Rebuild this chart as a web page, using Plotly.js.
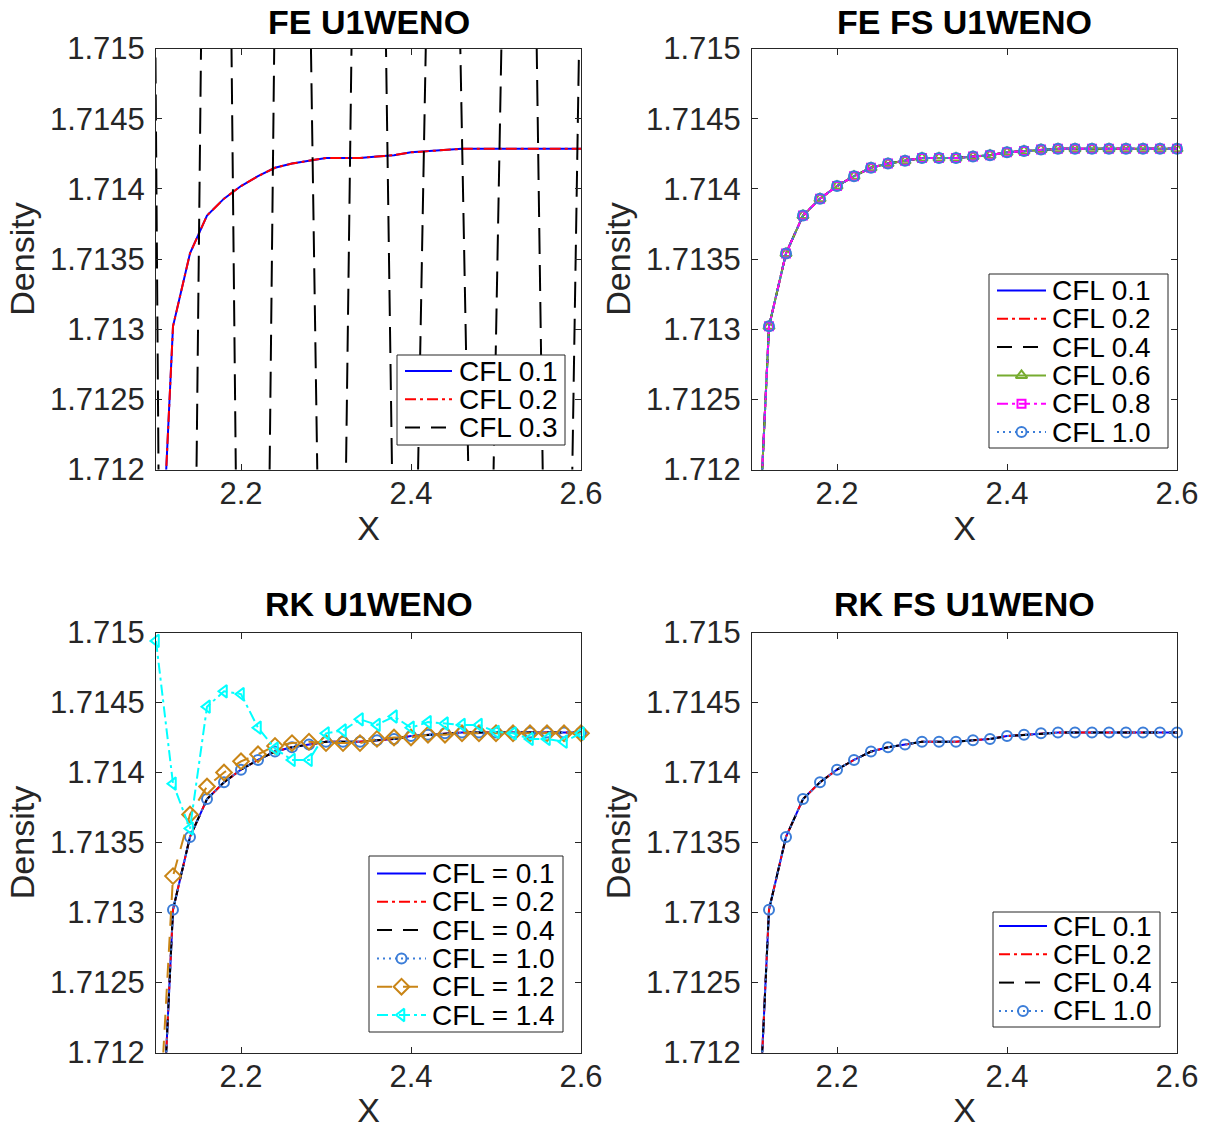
<!DOCTYPE html>
<html><head><meta charset="utf-8">
<script src="https://cdn.plot.ly/plotly-3.0.1.min.js"></script>
<style>html,body{margin:0;padding:0;background:#fff}</style>
</head><body><div id="chart" style="width:1207px;height:1129px"></div>
<script>
// ---------------- DATA ----------------
const x_grid = [2.10,2.12,2.14,2.16,2.18,2.20,2.22,2.24,2.26,2.28,2.30,2.32,2.34,2.36,2.38,2.40,2.42,2.44,2.46,2.48,2.50,2.52,2.54,2.56,2.58,2.60];
const rho_converged = [1.71046,1.71302,1.71354,1.71381,1.71393,1.71402,1.71409,1.71415,1.71418,1.71420,1.71422,1.71422,1.71422,1.71423,1.71424,1.71426,1.71427,1.71428,1.714285,1.714285,1.714285,1.714285,1.714285,1.714285,1.714285,1.714285];
const rho_rk_cfl12 = [1.71105,1.71326,1.71370,1.71390,1.71400,1.71408,1.71413,1.71419,1.71421,1.71422,1.71421,1.71421,1.71421,1.71424,1.71425,1.71425,1.71427,1.71427,1.71428,1.71428,1.71428,1.71428,1.71428,1.71428,1.71428,1.71428];
const rho_rk_cfl14 = [1.71494,1.71392,1.71360,1.71447,1.71458,1.71456,1.71432,1.71417,1.71409,1.71409,1.71428,1.71430,1.71438,1.71434,1.71440,1.71432,1.71436,1.71435,1.71434,1.71434,1.71429,1.71428,1.71424,1.71424,1.71422,1.71428];
const x_fe_cfl03 = [2.092,2.1212,2.1713,2.2131,2.2573,2.3078,2.3494,2.3911,2.4373,2.4825,2.5298,2.5714,2.6134];
const rho_fe_cfl03 = [1.7210,1.6970,1.7254,1.7006,1.7251,1.7047,1.7240,1.7063,1.7216,1.7072,1.7227,1.7050,1.7210];

const panel_titles = ['FE U1WENO','FE FS U1WENO','RK U1WENO','RK FS U1WENO'];
const labels_fe = ['CFL 0.1','CFL 0.2','CFL 0.3'];
const labels_fefs = ['CFL 0.1','CFL 0.2','CFL 0.4','CFL 0.6','CFL 0.8','CFL 1.0'];
const labels_rk = ['CFL = 0.1','CFL = 0.2','CFL = 0.4','CFL = 1.0','CFL = 1.2','CFL = 1.4'];
const labels_rkfs = ['CFL 0.1','CFL 0.2','CFL 0.4','CFL 1.0'];
const x_ticks = [2.2,2.4,2.6];
const x_tick_labels = ['2.2','2.4','2.6'];
const y_ticks = [1.712,1.7125,1.713,1.7135,1.714,1.7145,1.715];
const y_tick_labels = ['1.712','1.7125','1.713','1.7135','1.714','1.7145','1.715'];
const x_title = 'X';
const y_title = 'Density';

// ---------------- STYLES ----------------
const DD = '11px,4px,3px,4px';
const DA = '15px,11px';
const DT = '2px,4px';
const S = {
  c01:{color:'#0000FF',dash:'solid'},
  c02:{color:'#FF0000',dash:DD},
  c03:{color:'#000000',dash:DA,plotDash:'26px,11px'},
  c04:{color:'#000000',dash:DA},
  c06:{color:'#77AC30',dash:'solid',symbol:'triangle-up-open',size:10},
  c08:{color:'#FF00FF',dash:DD,symbol:'square-open',size:8},
  c10:{color:'#3B7DD8',dash:DT,symbol:'circle-open',size:10},
  c12:{color:'#C98516',dash:DA,symbol:'diamond-open',size:12},
  c14:{color:'#00FFFF',dash:DD,symbol:'triangle-left-open',size:11}
};

const panels = [
  {series:[[labels_fe[0],x_grid,rho_converged,S.c01],[labels_fe[1],x_grid,rho_converged,S.c02],[labels_fe[2],x_fe_cfl03,rho_fe_cfl03,S.c03]],
   box:[156,581,48.5,469.5], leg:{box:[397,355,565,445],sx:[405,452],tx:457,y0:371,dy:28.3}, ty:22},
  {series:[[labels_fefs[0],x_grid,rho_converged,S.c01],[labels_fefs[1],x_grid,rho_converged,S.c02],[labels_fefs[2],x_grid,rho_converged,S.c04],
           [labels_fefs[3],x_grid,rho_converged,S.c06],[labels_fefs[4],x_grid,rho_converged,S.c08],[labels_fefs[5],x_grid,rho_converged,S.c10]],
   box:[752,1177,48.5,469.5], leg:{box:[989,274,1168,448],sx:[997,1046],tx:1050,y0:290.5,dy:28.3}, ty:22},
  {series:[[labels_rk[0],x_grid,rho_converged,S.c01],[labels_rk[1],x_grid,rho_converged,S.c02],[labels_rk[2],x_grid,rho_converged,S.c04],
           [labels_rk[3],x_grid,rho_converged,S.c10],[labels_rk[4],x_grid,rho_rk_cfl12,S.c12],[labels_rk[5],x_grid,rho_rk_cfl14,S.c14]],
   box:[156,581,632.5,1052.5], leg:{box:[369,856,563,1032],sx:[377,426],tx:430,y0:873.5,dy:28.3}, ty:604},
  {series:[[labels_rkfs[0],x_grid,rho_converged,S.c01],[labels_rkfs[1],x_grid,rho_converged,S.c02],[labels_rkfs[2],x_grid,rho_converged,S.c04],[labels_rkfs[3],x_grid,rho_converged,S.c10]],
   box:[752,1177,632.5,1052.5], leg:{box:[993,912,1160,1027],sx:[999,1047],tx:1051,y0:926,dy:28.3}, ty:604}
];

// ---------------- BUILD ----------------
const W = 1207, H = 1129;
const FONT = '"Liberation Sans", Arial, Helvetica, sans-serif';
const AXC = '#262626';
const layout = {width:W,height:H,margin:{l:0,r:0,t:0,b:0},paper_bgcolor:'#ffffff',plot_bgcolor:'rgba(0,0,0,0)',
  showlegend:false,font:{family:FONT,color:AXC},annotations:[],shapes:[],
  xaxis5:{domain:[0,1],range:[0,W],visible:false,fixedrange:true,anchor:'y5'},
  yaxis5:{domain:[0,1],range:[H,0],visible:false,fixedrange:true,anchor:'x5'}};
const traces = [];

function mk(st){ return {symbol:st.symbol,size:st.size,color:st.color,line:{color:st.color,width:2}}; }

panels.forEach((p,i)=>{
  const n = i===0 ? '' : String(i+1);
  const b = p.box;
  const common = {ticks:'inside',ticklen:6,tickwidth:1,tickcolor:AXC,showline:true,linecolor:AXC,linewidth:1,
    mirror:'allticks',showgrid:false,zeroline:false,fixedrange:true,tickfont:{family:FONT,size:31,color:AXC}};
  layout['xaxis'+n] = Object.assign({},common,{domain:[b[0]/W,b[1]/W],range:[2.1,2.6],anchor:'y'+n,
    tickmode:'array',tickvals:x_ticks,ticktext:x_tick_labels,ticklabelstandoff:-4,
    title:{text:x_title,font:{family:FONT,size:34,color:AXC},standoff:6}});
  layout['yaxis'+n] = Object.assign({},common,{domain:[1-b[3]/H,1-b[2]/H],range:[1.712,1.715],anchor:'x'+n,
    tickmode:'array',tickvals:y_ticks,ticktext:y_tick_labels,ticklabelstandoff:4,
    title:{text:y_title,font:{family:FONT,size:34,color:AXC},standoff:5}});
  p.series.forEach(s=>{
    const st = s[3];
    const t = {type:'scatter',x:s[1],y:s[2],name:s[0],xaxis:'x'+n,yaxis:'y'+n,
      mode: st.symbol ? 'lines+markers' : 'lines',
      cliponaxis: st.symbol ? false : true,
      line:{color:st.color,width:2,dash:st.plotDash||st.dash},hoverinfo:'skip'};
    if(st.symbol) t.marker = mk(st);
    traces.push(t);
  });
  layout.annotations.push({xref:'x5',yref:'y5',x:(b[0]+b[1])/2,y:p.ty,text:panel_titles[i],showarrow:false,
    xanchor:'center',yanchor:'middle',font:{family:FONT,size:34,color:'#000',weight:'bold'}});
  const L = p.leg;
  layout.shapes.push({type:'rect',xref:'x5',yref:'y5',layer:'below',x0:L.box[0],x1:L.box[2],y0:L.box[1],y1:L.box[3],
    fillcolor:'#ffffff',line:{color:AXC,width:1}});
  p.series.forEach((s,k)=>{
    const st = s[3];
    const yy = L.y0 + k*L.dy;
    traces.push({type:'scatter',xaxis:'x5',yaxis:'y5',x:[L.sx[0],L.sx[1]],y:[yy,yy],mode:'lines',
      line:{color:st.color,width:2,dash:st.dash},hoverinfo:'skip',cliponaxis:false});
    if(st.symbol){
      traces.push({type:'scatter',xaxis:'x5',yaxis:'y5',x:[(L.sx[0]+L.sx[1])/2],y:[yy],mode:'markers',
        marker:mk(st),hoverinfo:'skip',cliponaxis:false});
    }
    layout.annotations.push({xref:'x5',yref:'y5',x:L.tx,y:yy,text:s[0],showarrow:false,xanchor:'left',yanchor:'middle',
      font:{family:FONT,size:28,color:'#000'}});
  });
});

Plotly.newPlot('chart',traces,layout,{staticPlot:true,displayModeBar:false});
</script></body></html>
